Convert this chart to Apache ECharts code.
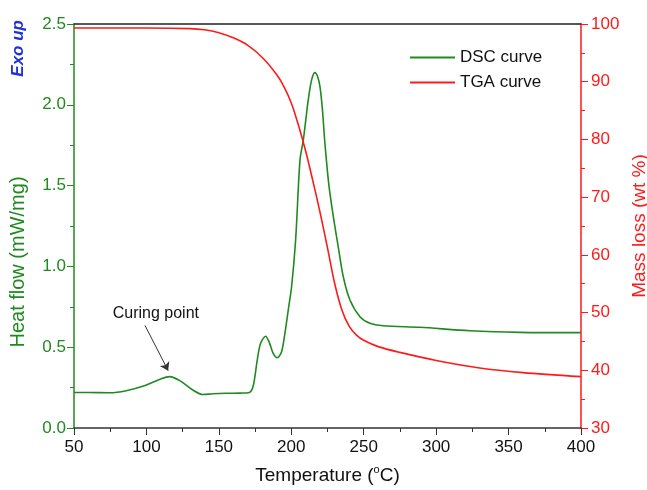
<!DOCTYPE html>
<html>
<head>
<meta charset="utf-8">
<script src="https://cdn.jsdelivr.net/npm/echarts@6/dist/echarts.min.js"></script>
<style>
  html, body { margin: 0; padding: 0; background: #fff; }
  #chart { width: 647px; height: 490px; }
</style>
</head>
<body>
<div id="chart"></div>
<script>
// DSC curve (heat flow, mW/mg) vs temperature
const dscTemp = [50, 60, 75, 86, 98, 109, 116, 123, 132, 139, 146, 155, 165, 171, 173.7, 176.5, 178.8, 182.3, 184.8, 187.6, 190.3, 193.3, 195.6, 197.9, 200.2, 203, 206, 208.3, 211.7, 214, 216.3, 218, 219.8, 221.5, 223.2, 226, 229, 232.4, 235.9, 240.5, 247.4, 254.3, 263.5, 288.8, 323.3, 357.8, 400];
const dscHeat = [0.22, 0.22, 0.218, 0.231, 0.26, 0.30, 0.318, 0.293, 0.235, 0.207, 0.212, 0.215, 0.216, 0.22, 0.26, 0.42, 0.524, 0.568, 0.53, 0.46, 0.435, 0.472, 0.586, 0.73, 0.874, 1.163, 1.658, 1.782, 2.03, 2.153, 2.199, 2.18, 2.112, 1.97, 1.763, 1.5, 1.31, 1.122, 0.936, 0.792, 0.689, 0.648, 0.633, 0.623, 0.602, 0.592, 0.59];

// TGA curve (mass, wt %) vs temperature
const tgaTemp = [50, 100, 130, 140, 150, 160, 170, 180, 190, 195, 200, 205, 210, 215, 220, 225, 230, 235, 240, 245, 250, 260, 275, 300, 330, 360, 400];
const tgaMass = [99.3, 99.3, 99.2, 99.0, 98.5, 97.6, 96.3, 94.2, 91.2, 89.1, 86.3, 82.4, 77.9, 72.7, 67.2, 61.2, 55.0, 50.4, 47.6, 46.1, 45.2, 44.1, 43.1, 41.7, 40.4, 39.6, 38.9];

const seriesNames = ['DSC curve', 'TGA curve'];

// annotation: "Curing point" text and arrow (data coordinates)
const curingLabelAt = [106.5, 0.71];
const curingArrow = [[99, 0.635], [115, 0.355]];

const GREEN = '#1f8a1f';
const RED = '#ff1a1a';
const FONT = '"Liberation Sans", Arial, sans-serif';

const chart = echarts.init(document.getElementById('chart'));

const pairs = (xs, ys) => xs.map((x, i) => [x, ys[i]]);

const option = {
  animation: false,
  textStyle: { fontFamily: FONT },
  grid: { left: 74, right: 66, top: 24, bottom: 62, containLabel: false, outerBoundsMode: 'none' },
  legend: {
    orient: 'vertical',
    left: 405,
    top: 44,
    icon: 'rect',
    itemWidth: 45,
    itemHeight: 2,
    itemGap: 8,
    textStyle: { fontSize: 17, color: '#111', fontFamily: FONT },
    data: seriesNames,
  },
  graphic: [
    {
      type: 'text',
      left: 10,
      top: 20,
      rotation: Math.PI / 2,
      style: {
        text: 'Exo up',
        fill: '#2030e0',
        font: 'italic bold 17px ' + FONT,
      },
    },
    {
      type: 'text',
      x: 18,
      y: 262,
      rotation: Math.PI / 2,
      style: {
        text: 'Heat flow (mW/mg)',
        fill: GREEN,
        font: '20px ' + FONT,
        align: 'center',
        verticalAlign: 'middle',
      },
    },
  ],
  xAxis: [
    {
      type: 'value',
      min: 50,
      max: 400,
      interval: 50,
      name: 'Temperature (' + '{sup|o}' + 'C)',
      nameLocation: 'middle',
      nameGap: 36,
      nameTextStyle: {
        fontSize: 19,
        color: '#111',
        rich: { sup: { fontSize: 11, verticalAlign: 'top', padding: [0, 0, 12, 0], color: '#111' } },
      },
      axisLine: { lineStyle: { color: '#333', width: 1.5 } },
      axisTick: { inside: false, length: 7, lineStyle: { color: '#333' } },
      minorTick: { show: true, splitNumber: 2, length: 4, lineStyle: { color: '#333' } },
      axisLabel: { fontSize: 17, color: '#111', margin: 11 },
      splitLine: { show: false },
    },
    {
      type: 'value',
      position: 'top',
      min: 50,
      max: 400,
      axisLine: { show: true, lineStyle: { color: '#222', width: 1.5 } },
      axisTick: { show: false },
      axisLabel: { show: false },
      splitLine: { show: false },
    },
  ],
  yAxis: [
    {
      type: 'value',
      min: 0,
      max: 2.5,
      interval: 0.5,
      axisLine: { show: true, lineStyle: { color: GREEN, width: 1.5 } },
      axisTick: { show: true, length: 7, lineStyle: { color: GREEN } },
      minorTick: { show: true, splitNumber: 2, length: 4, lineStyle: { color: GREEN } },
      axisLabel: { fontSize: 17, color: GREEN, formatter: v => v.toFixed(1) },
      splitLine: { show: false },
    },
    {
      type: 'value',
      min: 30,
      max: 100,
      interval: 10,
      position: 'right',
      name: 'Mass loss (wt %)',
      nameLocation: 'middle',
      nameGap: 46,
      nameRotate: 90,
      nameTextStyle: { fontSize: 19, color: RED },
      axisLine: { show: true, lineStyle: { color: RED, width: 1.5 } },
      axisTick: { show: true, length: 7, lineStyle: { color: RED } },
      minorTick: { show: true, splitNumber: 2, length: 4, lineStyle: { color: RED } },
      axisLabel: { fontSize: 17, color: RED, margin: 10 },
      splitLine: { show: false },
    },
  ],
  series: [
    {
      name: seriesNames[0],
      type: 'line',
      xAxisIndex: 0,
      yAxisIndex: 0,
      data: pairs(dscTemp, dscHeat),
      smooth: 0.3,
      symbol: 'none',
      color: GREEN,
      lineStyle: { color: GREEN, width: 1.6 },
      markLine: {
        silent: true,
        symbol: ['none', 'arrow'],
        symbolSize: 8,
        label: { show: false },
        lineStyle: { color: '#333', width: 1, type: 'solid' },
        data: [[{ coord: curingArrow[0] }, { coord: curingArrow[1] }]],
      },
      markPoint: {
        silent: true,
        symbol: 'circle',
        symbolSize: 1,
        itemStyle: { color: 'rgba(0,0,0,0)' },
        label: { show: true, position: 'inside', formatter: 'Curing point', fontSize: 16, color: '#111' },
        data: [{ coord: curingLabelAt }],
      },
    },
    {
      name: seriesNames[1],
      type: 'line',
      xAxisIndex: 0,
      yAxisIndex: 1,
      data: pairs(tgaTemp, tgaMass),
      smooth: 0.3,
      symbol: 'none',
      color: RED,
      lineStyle: { color: RED, width: 1.6 },
    },
  ],
};

chart.setOption(option);
</script>
</body>
</html>
